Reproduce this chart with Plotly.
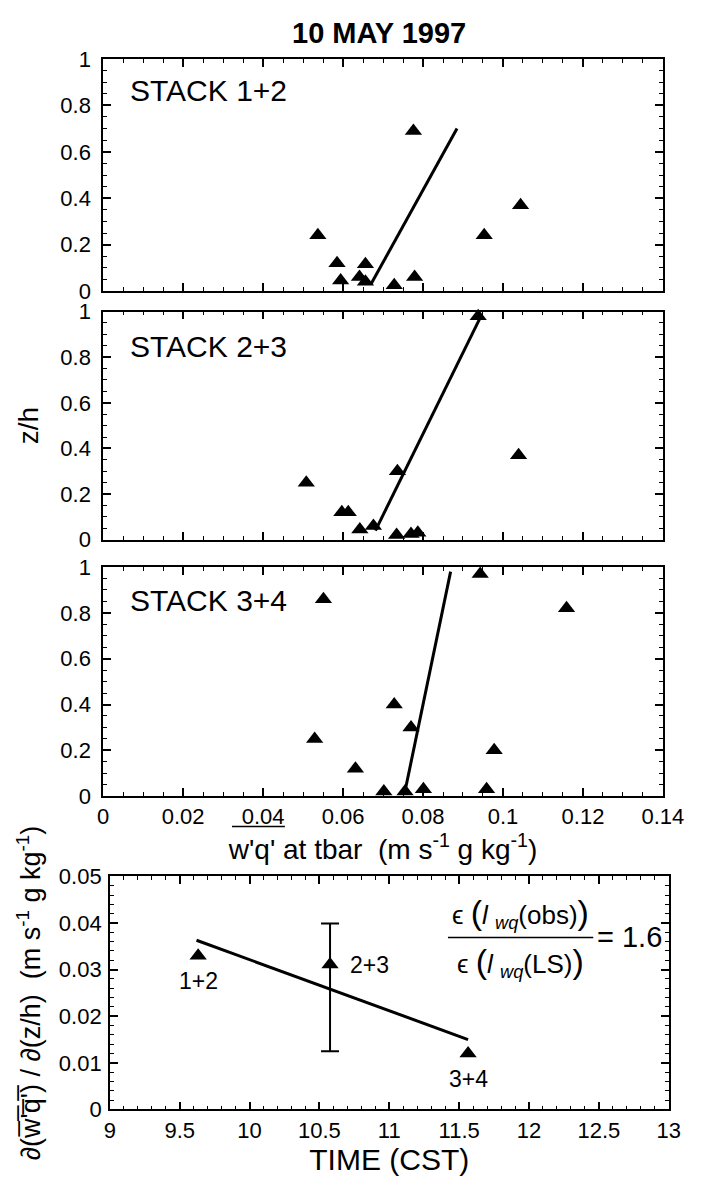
import plotly.graph_objects as go

# ---------------- data ----------------
# Stack 1+2
s12_wq = [0.0537, 0.0585, 0.0594, 0.0641, 0.0656, 0.0656, 0.0728, 0.0776, 0.0779, 0.0953, 0.1044]
s12_z = [0.24, 0.12, 0.045, 0.06, 0.115, 0.04, 0.025, 0.69, 0.06, 0.24, 0.37]
s12_fit_wq = [0.0670, 0.0885]
s12_fit_z = [0.03, 0.70]

# Stack 2+3
s23_wq = [0.0508, 0.0597, 0.0613, 0.0642, 0.0676, 0.0736, 0.0734, 0.0770, 0.0787, 0.0938, 0.1039]
s23_z = [0.25, 0.12, 0.12, 0.045, 0.06, 0.30, 0.02, 0.025, 0.03, 0.98, 0.37]
s23_fit_wq = [0.0681, 0.0945]
s23_fit_z = [0.04, 0.98]

# Stack 3+4
s34_wq = [0.0551, 0.0529, 0.0631, 0.0702, 0.0728, 0.0770, 0.0755, 0.0801, 0.0943, 0.0959, 0.0978, 0.1159]
s34_z = [0.86, 0.25, 0.12, 0.02, 0.40, 0.30, 0.02, 0.03, 0.97, 0.03, 0.20, 0.82]
s34_fit_wq = [0.0756, 0.0869]
s34_fit_z = [0.03, 0.98]

# Gradient vs time
time_cst = [9.632, 10.576, 11.564]
grad = [0.0330, 0.0311, 0.0120]
grad_labels = ["1+2", "2+3", "3+4"]
err_time = [10.576]
err_center = [0.0311]
err_top = [0.0399]
err_bottom = [0.0125]
trend_time = [9.62, 11.564]
trend_grad = [0.0363, 0.0150]

stack_names = ["STACK 1+2", "STACK 2+3", "STACK 3+4"]
x_ticks_wq = [0, 0.02, 0.04, 0.06, 0.08, 0.1, 0.12, 0.14]
y_ticks_z = [0, 0.2, 0.4, 0.6, 0.8, 1]
x_ticks_t = [9, 9.5, 10, 10.5, 11, 11.5, 12, 12.5, 13]
y_ticks_g = [0, 0.01, 0.02, 0.03, 0.04, 0.05]

# ---------------- figure ----------------
W, H = 707, 1189
FONT = "Liberation Sans, Arial, Helvetica, sans-serif"
TICKF = 22

fig = go.Figure()

panels = [(s12_wq, s12_z, s12_fit_wq, s12_fit_z),
          (s23_wq, s23_z, s23_fit_wq, s23_fit_z),
          (s34_wq, s34_z, s34_fit_wq, s34_fit_z)]

for i, (px, pz, fx, fz) in enumerate(panels):
    xa = "x" if i == 0 else f"x{i+1}"
    ya = "y" if i == 0 else f"y{i+1}"
    fig.add_trace(go.Scatter(x=fx, y=fz, mode="lines", line=dict(color="black", width=3),
                             xaxis=xa, yaxis=ya, showlegend=False, cliponaxis=False))
    fig.add_trace(go.Scatter(x=px, y=pz, mode="markers",
                             marker=dict(symbol="triangle-up", size=15, color="black"),
                             xaxis=xa, yaxis=ya, showlegend=False, cliponaxis=False))

# bottom panel
fig.add_trace(go.Scatter(x=trend_time, y=trend_grad, mode="lines", line=dict(color="black", width=3),
                         xaxis="x4", yaxis="y4", showlegend=False))
fig.add_trace(go.Scatter(
    x=err_time, y=err_center, mode="markers", marker=dict(size=0.1, color="black"),
    error_y=dict(type="data", symmetric=False,
                 array=[t - c for t, c in zip(err_top, err_center)],
                 arrayminus=[c - b for c, b in zip(err_center, err_bottom)],
                 color="black", thickness=2, width=9),
    xaxis="x4", yaxis="y4", showlegend=False))
fig.add_trace(go.Scatter(x=time_cst, y=grad, mode="markers",
                         marker=dict(symbol="triangle-up", size=15, color="black"),
                         xaxis="x4", yaxis="y4", showlegend=False, cliponaxis=False))

def px2paper_x(p):
    return p / W

def px2paper_y(p):
    return 1 - p / H

xdom = [px2paper_x(101), px2paper_x(683)]
ydoms = [[px2paper_y(285), px2paper_y(48)],
         [px2paper_y(539), px2paper_y(306)],
         [px2paper_y(801), px2paper_y(567)]]
xdom4 = [px2paper_x(108), px2paper_x(689)]
ydom4 = [px2paper_y(1121), px2paper_y(883)]

def axis_common(**kw):
    d = dict(ticks="inside", ticklen=8, tickwidth=1.5, tickcolor="black",
             showline=True, linecolor="black", linewidth=1.6, mirror="ticks",
             showgrid=False, zeroline=False,
             tickfont=dict(family=FONT, size=TICKF, color="black"))
    d.update(kw)
    return d

layout = dict(width=W, height=H, margin=dict(l=0, r=0, t=0, b=0),
              plot_bgcolor="white", paper_bgcolor="white",
              font=dict(family=FONT, color="black"))

for i in range(3):
    xk = "xaxis" if i == 0 else f"xaxis{i+1}"
    yk = "yaxis" if i == 0 else f"yaxis{i+1}"
    ya = "y" if i == 0 else f"y{i+1}"
    xa = "x" if i == 0 else f"x{i+1}"
    layout[xk] = axis_common(domain=xdom, anchor=ya, range=[0, 0.14],
                             tickvals=x_ticks_wq, showticklabels=(i == 2),
                             minor=dict(dtick=0.005, tick0=0, ticks="inside", ticklen=4,
                                        tickwidth=1.2, tickcolor="black", showgrid=False))
    layout[yk] = axis_common(domain=ydoms[i], anchor=xa, range=[0, 1],
                             tickvals=y_ticks_z, ticklabelstandoff=6,
                             minor=dict(dtick=0.05, tick0=0, ticks="inside", ticklen=4,
                                        tickwidth=1.2, tickcolor="black", showgrid=False))

layout["xaxis3"]["title"] = dict(
    text="w'q' at tbar  (m s<sup>-1</sup> g kg<sup>-1</sup>)",
    font=dict(family=FONT, size=28, color="black"), standoff=0)
layout["yaxis2"]["title"] = dict(text="z/h", font=dict(family=FONT, size=28, color="black"),
                                 standoff=14)

layout["xaxis4"] = axis_common(domain=xdom4, anchor="y4", range=[9, 13], tickvals=x_ticks_t,
                               minor=dict(dtick=0.1, tick0=9, ticks="inside", ticklen=4,
                                          tickwidth=1.2, tickcolor="black", showgrid=False),
                               title=dict(text="TIME (CST)",
                                          font=dict(family=FONT, size=30, color="black"),
                                          standoff=6))
layout["yaxis4"] = axis_common(domain=ydom4, anchor="x4", range=[0, 0.05], tickvals=y_ticks_g,
                               ticklabelstandoff=2,
                               minor=dict(dtick=0.002, tick0=0, ticks="inside", ticklen=4,
                                          tickwidth=1.2, tickcolor="black", showgrid=False),
                               title=dict(text="∂(w\u0305'\u0305q\u0305'\u0305) / ∂(z/h)  (m s<sup>-1</sup> g kg<sup>-1</sup>)",
                                          font=dict(family=FONT, size=27, color="black"),
                                          standoff=10))

fig.update_layout(**layout)

annotations = []
annotations.append(dict(text="<b>10 MAY 1997</b>", xref="paper", yref="paper",
                        x=px2paper_x(388), y=px2paper_y(21), xanchor="center", yanchor="middle",
                        showarrow=False, font=dict(family=FONT, size=29, color="black")))
stack_y = [0.865, 0.845, 0.855]
for i, name in enumerate(stack_names):
    xa = "x" if i == 0 else f"x{i+1}"
    ya = "y" if i == 0 else f"y{i+1}"
    annotations.append(dict(text=name, xref=f"{xa} domain", yref=f"{ya} domain",
                            x=0.044, y=stack_y[i], xanchor="left", yanchor="middle",
                            showarrow=False, font=dict(family=FONT, size=30, color="black")))

# point labels in bottom panel
lab_dx = [0, 18, 0]
lab_dy = [-25, 0, -25]
lab_anchor = ["center", "left", "center"]
for t, g, lab, dx, dy, an in zip(time_cst, grad, grad_labels, lab_dx, lab_dy, lab_anchor):
    annotations.append(dict(text=lab, x=t, y=g, xref="x4", yref="y4", xanchor=an,
                            yanchor="middle", xshift=dx, yshift=dy, showarrow=False,
                            font=dict(family=FONT, size=23, color="black")))

# ratio formula
BIGP = "<span style='font-size:34px'>(</span>"
BIGQ = "<span style='font-size:34px'>)</span>"
annotations.append(dict(text="ϵ " + BIGP + "<i>l</i> <sub><i>wq</i></sub>(obs)" + BIGQ,
                        x=11.94, y=0.0422,
                        xref="x4", yref="y4", xanchor="center", yanchor="middle",
                        showarrow=False, font=dict(family=FONT, size=26, color="black")))
annotations.append(dict(text="ϵ " + BIGP + "<i>l</i> <sub><i>wq</i></sub>(LS)" + BIGQ,
                        x=11.94, y=0.0316,
                        xref="x4", yref="y4", xanchor="center", yanchor="middle",
                        showarrow=False, font=dict(family=FONT, size=26, color="black")))
annotations.append(dict(text="= 1.6", x=12.47, y=0.0370, xref="x4", yref="y4",
                        xanchor="left", yanchor="middle", showarrow=False,
                        font=dict(family=FONT, size=29, color="black")))

fig.update_layout(annotations=annotations)

# fraction bar and overline (decorations)
fig.add_shape(type="line", xref="x4", yref="y4", x0=11.42, x1=12.46, y0=0.0369, y1=0.0369,
              line=dict(color="black", width=1.5))
fig.add_shape(type="line", xref="paper", yref="paper",
              x0=px2paper_x(235), x1=px2paper_x(290), y0=px2paper_y(832), y1=px2paper_y(832),
              line=dict(color="black", width=1.5))

fig.write_html("out.html")
